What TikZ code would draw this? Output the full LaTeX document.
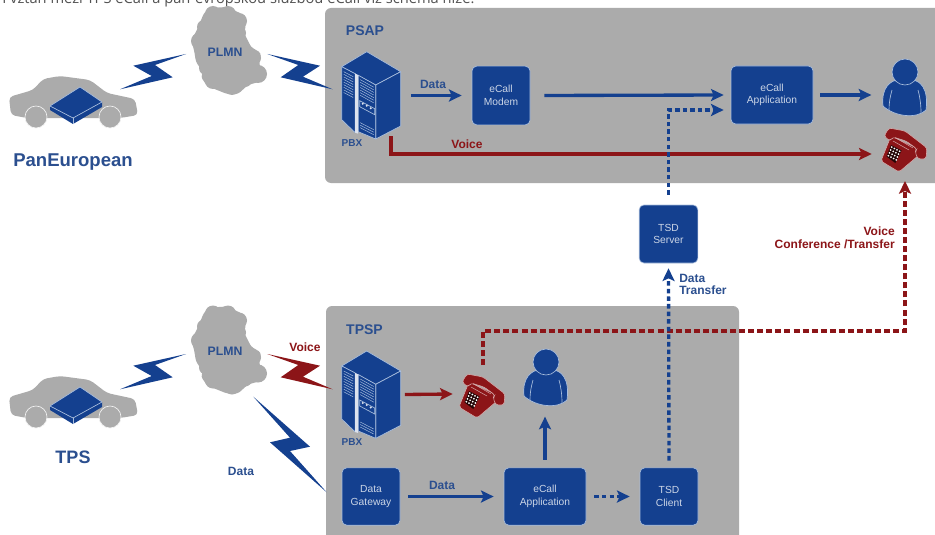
\documentclass[tikz,border=0pt]{standalone}
\usepackage{fontspec}
\setmainfont{Liberation Sans}
\newfontfamily\topfont{Open Sans}
\usetikzlibrary{arrows.meta,calc}
\definecolor{navy}{HTML}{14408F}
\definecolor{labelblue}{HTML}{2B4F8F}
\definecolor{wine}{HTML}{8C1518}
\definecolor{panelgrey}{HTML}{ABABAB}
\definecolor{cloudgrey}{HTML}{ABABAB}
\definecolor{edgeblue}{HTML}{A9BEDD}
\tikzset{
  x=0.75pt,y=-0.75pt,
  panel/.style={fill=panelgrey,draw=none,rounded corners=4.5pt},
  bluebox/.style={fill=navy,draw=edgeblue,line width=0.5pt,rounded corners=3.5pt,inner sep=0pt,
    text=white!78!navy,font=\fontsize{7.7}{9.3}\selectfont,align=center},
  lab/.style={font=\bfseries\fontsize{9}{9.6}\selectfont,text=labelblue,inner sep=0pt},
  redlab/.style={lab,text=wine},
  anchorbox/.style={inner sep=0pt,draw=none,fill=none},
  bluearrow/.style={draw=navy,line width=2.5pt,-{Stealth[length=9.5pt,width=9pt,inset=2pt]}},
  redarrow/.style={draw=wine,line width=2.5pt,-{Stealth[length=9.5pt,width=9pt,inset=2pt]}},
  bluedash/.style={bluearrow,dash pattern=on 3.4pt off 2.3pt},
  reddash/.style={redarrow,dash pattern=on 4.5pt off 2.3pt},
  pics/autocar/.style={code={
    \fill[cloudgrey,rounded corners=3pt] (9,97)--(33,90)--(43,79)--(60,76)--(90,80)--(107,93)--(135,99)--(138,115)--(120,118)--(27,118)--(11,115)--cycle;
    \fill[cloudgrey,draw=white!85!cloudgrey,line width=0.5pt] (36,117) circle[radius=11];
    \fill[cloudgrey,draw=white!85!cloudgrey,line width=0.5pt] (110,117) circle[radius=11];
    \fill[navy] (50,106)--(73,118)--(102,102)--(102,107)--(73,124)--(50,110)--cycle;
    \fill[navy,draw=edgeblue,line width=0.5pt,line join=round] (80,87)--(102,102)--(73,118)--(50,106)--cycle;
    \draw[edgeblue,line width=0.4pt] (73,118)--(73,124);
  }},
  pics/pbxrack/.style={code={
    \fill[navy,draw=edgeblue,line width=0.5pt,line join=round] (25,0)--(59,20)--(34,33.3)--(0,15)--cycle;
    \fill[navy,draw=edgeblue,line width=0.5pt,line join=round] (34,33.3)--(59,20)--(59,74.3)--(34,87.3)--cycle;
    \fill[navy,draw=edgeblue,line width=0.5pt,line join=round] (0,15)--(13.5,22)--(13.5,81)--(0,68)--cycle;
    \fill[navy,draw=edgeblue,line width=0.5pt,line join=round] (16.5,23.5)--(34,33.3)--(34,87.3)--(16.5,80)--cycle;
    \fill[white!85!navy] (13.5,22)--(16.5,23.5)--(16.5,82)--(13.5,81)--cycle;
    \foreach \k in {0,2.6,...,21}{
      \draw[edgeblue,line width=0.35pt] (2,20+\k)--(11.5,25+\k);
    }
    \foreach \k in {0,2.6,...,18}{
      \draw[edgeblue,line width=0.35pt] (18.5,28+\k)--(32,35.5+\k);
    }
    \draw[edgeblue,line width=0.5pt] (18,49)--(33,57)--(33,63)--(18,55)--cycle;
    \fill[white!85!navy] (21,52) circle[radius=1.1] (25,54) circle[radius=1.1] (29,56.5) circle[radius=1.1];
    \foreach \k in {0,2.5,5}{
      \draw[edgeblue,line width=0.35pt] (18.5,71+\k)--(32,78+\k);
    }
  }},
  pics/deskphone/.style={code={
    \fill[wine,draw=white!65!wine,line width=0.4pt,rounded corners=1.5pt]
      (10,8)--(40,22)--(38,27)--(18,44)--(0,33)--cycle;
    \fill[wine,draw=white!65!wine,line width=0.4pt,rounded corners=2pt]
      (3,8)--(8,0)--(24,3)--(46,20)--(45,31)--(37,31)--(34,24)--(36,21)--(25,13)--(12,9)--(9,13)--cycle;
    \draw[white!65!wine,line width=0.35pt] (14,9.5)--(32,20) (12,13)--(28,22);
    \fill[black!75!wine] (10,17)--(20.5,22.5)--(14.3,35)--(5.5,28.5)--cycle;
    \foreach \i in {0,1,2,3}{\foreach \j in {0,1,2,3}{
      \fill[white] ({10+(\i+.5)/4*10.5-(\j+.5)/4*4.5},{17+(\i+.5)/4*5.5+(\j+.5)/4*11.5}) circle[radius=0.9];
    }}
  }},
  pics/operator/.style={code={
    \fill[navy,draw=edgeblue,line width=0.5pt] (-22,34) .. controls (-24,15) and (-14,9) .. (-8,8)
      -- (8,8) .. controls (14,9) and (24,15) .. (21,38) .. controls (12,47) and (-10,45) .. (-22,34) -- cycle;
    \fill[navy,draw=edgeblue,line width=0.5pt] (0,0) circle[radius=13];
    \draw[edgeblue,line width=0.5pt] (-13,18) .. controls (-15,25) and (-16,31) .. (-16,38);
    \draw[edgeblue,line width=0.5pt] (13,18) .. controls (15,25) and (16,33) .. (16,41);
  }},
  pics/plmncloud/.style={code={
    \fill[cloudgrey,rounded corners=2pt] (210,8)--(227,7)--(242,14)--(246,25)--(244,33)--(251,47)--(261,53)--(259,65)--(266,72)--(262,81)--(248,85)--(238,94)--(227,94)--(207,86)--(201,77)--(203,72)--(196,62)--(194,50)--(191,40)--(196,32)--(199,25)--(204,13)--cycle;
    \fill[cloudgrey] (213,14) circle[radius=8] (228,14) circle[radius=8] (239,21) circle[radius=8] (239,33) circle[radius=7]
      (244,47) circle[radius=6] (254,58) circle[radius=7] (258,74) circle[radius=9] (245,80) circle[radius=7]
      (232,87) circle[radius=8] (213,81) circle[radius=8] (206,68) circle[radius=7] (201,55) circle[radius=6]
      (199,41) circle[radius=8] (204,27) circle[radius=7];
  }},
}
\begin{document}
\begin{tikzpicture}
\useasboundingbox (0,0) rectangle (935,535);
\fill[white] (0,0) rectangle (935,535);
\begin{scope}
\clip (0,0) rectangle (935,535);
\node[anchor=base west,inner sep=0pt,text=black!68,font=\topfont\fontsize{11}{12}\selectfont] (caption) at (2,3.5) {I vztah mezi TPS eCall a pan-evropskou službou eCall viz schéma níže.};
\fill[panelgrey,rounded corners=4.5pt] (325,8) rectangle (945,183);
\fill[panelgrey,rounded corners=4.5pt] (326,306) rectangle (739,545);
\end{scope}

% clouds, cars
\pic at (0,0) {plmncloud};
\pic at (0,299.5) {plmncloud};
\pic at (0,0) {autocar};
\pic at (0,300) {autocar};

% radio links
\fill[navy] (120,89.3)--(172.7,77.3)--(155,65)--(186,54)--(133.3,65.7)--(151.7,76)--cycle;
\fill[navy] (267.3,54)--(320,65.7)--(303,76.7)--(332.7,89.3)--(280.7,77.3)--(298.3,65)--cycle;
\fill[navy] (120,389.3)--(172.7,377.3)--(155,365)--(186,354)--(133.3,365.7)--(151.7,376)--cycle;
\fill[wine] (267.3,354)--(320,365.7)--(303,376.7)--(332.7,389.3)--(280.7,377.3)--(298.3,365)--cycle;
\fill[navy] (253.3,396.7)--(310,446.7)--(290,451)--(326.7,492.3)--(270,442.3)--(290,437.7)--cycle;

% equipment
\pic at (341.7,51.7) {pbxrack};
\pic at (341.7,351) {pbxrack};
\pic at (881,128) {deskphone};
\pic at (459,374) {deskphone};
\pic at (905,72) {operator};
\pic at (546,362) {operator};

\node[anchor=center,anchorbox,minimum width=44.25pt,minimum height=65.25pt] (pbxA) at (371,95.5) {};
\node[anchor=center,anchorbox,minimum width=44.25pt,minimum height=65.25pt] (pbxB) at (371,394.5) {};
\node[anchorbox,minimum width=33pt,minimum height=33pt] (phoneA) at (903,150) {};
\node[anchorbox,minimum width=33pt,minimum height=33pt] (phoneB) at (481,396) {};
\node[anchorbox,minimum width=32pt,minimum height=32pt] (userA) at (904,95) {};
\node[anchorbox,minimum width=32pt,minimum height=32pt] (userB) at (545,384) {};

% boxes
\node[bluebox,minimum width=43.5pt,minimum height=44pt] (modem) at (501,95.5) {eCall\\Modem};
\node[bluebox,minimum width=61.5pt,minimum height=43.5pt] (appA) at (772,95) {eCall\\Application};
\node[bluebox,minimum width=44pt,minimum height=43.5pt] (server) at (668.5,234) {TSD\\Server};
\node[bluebox,minimum width=43.5pt,minimum height=43pt] (gateway) at (371,496.5) {Data\\Gateway};
\node[bluebox,minimum width=61.5pt,minimum height=43pt] (appB) at (545,496.5) {eCall\\Application};
\node[bluebox,minimum width=43.5pt,minimum height=43pt] (client) at (669,496.5) {TSD\\Client};

% free ends
\coordinate (voiceStart) at (391,136);
\coordinate (confStart) at (483,365);

% connectors
\draw[bluearrow] (pbxA.east |- modem.west) ++(10,0) -- ($(modem.west)+(-10,0)$);
\draw[bluearrow] ($(modem.east)+(14,0)$) -- ($(appA.west)+(-7,0)$);
\draw[bluearrow] ($(appA.east)+(7,0)$) -- ($(userA.west)+(-11,0)$);
\draw[redarrow] (voiceStart) |- ($(phoneA.west)+(-9,4)$);
\draw[bluedash] ($(server.north)+(0,-10)$) |- ($(appA.west)+(-7,15)$);
\draw[reddash] (confStart) |- (905,331) -- (905,181);
\draw[bluedash] ($(client.north)+(0,-7)$) -- ($(server.south)+(0,5)$);
\draw[redarrow] ($(pbxB.east)+(4,0)$) -- ($(phoneB.west)+(-6,-2)$);
\draw[bluearrow] ($(appB.north)+(0,-8)$) -- ($(userB.south)+(0,11)$);
\draw[bluearrow] ($(gateway.east)+(8,0)$) -- ($(appB.west)+(-10,0)$);
\draw[bluedash] ($(appB.east)+(8,0)$) -- ($(client.west)+(-10,0)$);

% labels
\node[lab,font=\bfseries\fontsize{10.5}{12}\selectfont] (psapL) at (365,30.5) {PSAP};
\node[lab,font=\bfseries\fontsize{10.5}{12}\selectfont] (tpspL) at (364.5,329.5) {TPSP};
\node[lab,font=\bfseries\fontsize{9.2}{10}\selectfont] (plmnA) at (225,52) {PLMN};
\node[lab,font=\bfseries\fontsize{9.2}{10}\selectfont] (plmnB) at (225,351.5) {PLMN};
\node[lab,font=\bfseries\fontsize{13.9}{15}\selectfont] (panL) at (73,162.5) {PanEuropean};
\node[lab,font=\bfseries\fontsize{13.5}{15}\selectfont] (tpsL) at (73,457) {TPS};
\node[lab,font=\bfseries\fontsize{7.5}{9}\selectfont] (pbxAL) at (352,143.5) {PBX};
\node[lab,font=\bfseries\fontsize{7.5}{9}\selectfont] (pbxBL) at (352,442.5) {PBX};
\node[lab] (dataA) at (433,84.5) {Data};
\node[lab] (dataB) at (442,485) {Data};
\node[lab] (dataC) at (241,471) {Data};
\node[redlab] (voiceA) at (467,144.5) {Voice};
\node[redlab] (voiceB) at (305,347.5) {Voice};
\node[lab,anchor=north west,align=left,font=\bfseries\fontsize{9}{9.3}\selectfont] (transferL) at (679,273.5) {Data\\Transfer};
\node[redlab,anchor=north east,align=right,font=\bfseries\fontsize{9}{9.3}\selectfont] (confL) at (895,227) {Voice\\Conference /Transfer};
\end{tikzpicture}
\end{document}
